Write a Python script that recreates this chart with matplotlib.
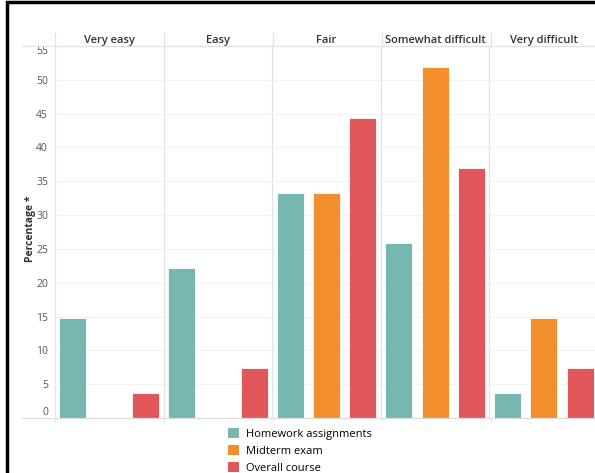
import matplotlib
matplotlib.use('Agg')
import matplotlib.pyplot as plt
from matplotlib.lines import Line2D
from matplotlib.patches import Rectangle, Patch

plt.rcParams['font.family'] = ['Open Sans', 'DejaVu Sans']

# Difficulty ratings (percent of respondents)
categories = ['Very easy', 'Easy', 'Fair', 'Somewhat difficult', 'Very difficult']
series = ['Homework assignments', 'Midterm exam', 'Overall course']
homework = [14.8, 22.2, 33.3, 25.9, 3.7]
midterm = [0.0, 0.0, 33.3, 51.9, 14.8]
overall = [3.7, 7.4, 44.4, 37.0, 7.4]
colors = ['#76b7b2', '#f28e2b', '#e15759']

W, H = 595, 473
fig = plt.figure(figsize=(W / 100, H / 100), dpi=100)


def fx(px):
    return px / W


def fy(py):
    return 1 - py / H


# axes runs past the right edge of the picture (the original is cropped there)
ax = fig.add_axes([fx(55), fy(418), fx(543), (418 - 46) / H])
ax.set_xlim(0, 5)
ax.set_ylim(0, 55)

offsets = [0.165, 0.5, 0.835]
for k, vals in enumerate([homework, midterm, overall]):
    xs = [i + offsets[k] for i in range(len(categories))]
    ax.bar(xs, vals, width=0.25, color=colors[k], edgecolor='white',
           linewidth=0.6, zorder=3)

ticks = list(range(0, 60, 5))
ax.set_yticks(ticks, [str(t) for t in ticks])
ax.get_yticklabels()[-1].set_va('top')
ax.get_yticklabels()[0].set_va('bottom')
ax.tick_params(axis='y', length=0, pad=5, labelsize=7.5, labelcolor='#555555')
ax.set_xticks([])
ax.grid(axis='y', color='#f2f2f2', linewidth=0.8, zorder=0)
for s in ax.spines.values():
    s.set_visible(False)

# panel separators
for i in range(len(categories)):
    ax.axvline(i, color='#e2e2e2', linewidth=0.9, zorder=1)

ax.set_ylabel('Percentage *', fontsize=7.5, fontweight='bold', color='#333333')
ax.yaxis.set_label_coords(-19 / 543, 0.51)

# header row + column titles
fig.add_artist(Line2D([fx(22), 1], [fy(46), fy(46)], color='#e2e2e2', linewidth=0.9))
fig.add_artist(Line2D([fx(22), 1], [fy(418), fy(418)], color='#dddddd', linewidth=0.9))
for i, name in enumerate(categories):
    xp = 55 + 109 * i
    fig.add_artist(Line2D([fx(xp), fx(xp)], [fy(33), fy(46)], color='#e2e2e2', linewidth=0.9))
    fig.add_artist(Line2D([fx(xp), fx(xp)], [fy(418), fy(421)], color='#e2e2e2', linewidth=0.9))
    ax.text(i + 0.5, 1.0, name, transform=ax.get_xaxis_transform(),
            ha='center', va='bottom', fontsize=8, fontweight='semibold',
            color='#333333')

handles = [Patch(facecolor=c, edgecolor='none') for c in colors]
fig.legend(handles, series, loc='upper left', bbox_to_anchor=(fx(225), fy(425)),
           frameon=False, fontsize=8, handlelength=1.0, handleheight=1.0,
           handletextpad=0.6, labelspacing=0.45, borderaxespad=0, borderpad=0.3)

# black frame (right and bottom cropped away)
fig.add_artist(Rectangle((fx(6.5), fy(1000)), 2, fy(2) - fy(1000), fill=False,
                         edgecolor='black', linewidth=2.5, transform=fig.transFigure))

fig.savefig('out.png', dpi=100)
